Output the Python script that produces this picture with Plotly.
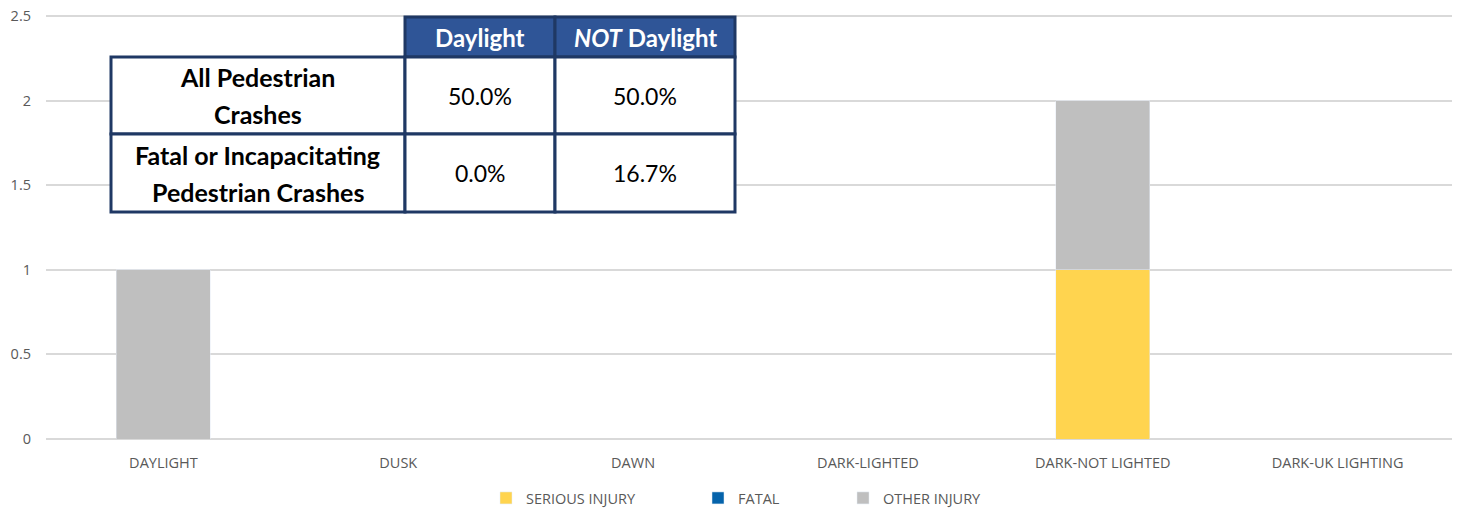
import plotly.graph_objects as go

# Chart data
conditions = ['DAYLIGHT', 'DUSK', 'DAWN', 'DARK-LIGHTED', 'DARK-NOT LIGHTED', 'DARK-UK LIGHTING']
serious_injury = [0, 0, 0, 0, 1, 0]
fatal = [0, 0, 0, 0, 0, 0]
other_injury = [1, 0, 0, 0, 1, 0]
y_ticks = [0, 0.5, 1, 1.5, 2, 2.5]

# Summary table data
table_cols = ['Daylight', '<i>NOT</i> Daylight']
table_rows = [['All Pedestrian', 'Crashes'], ['Fatal or Incapacitating', 'Pedestrian Crashes']]
table_vals = [['50.0%', '50.0%'], ['0.0%', '16.7%']]

# page has an 8px body margin, so the figure is drawn 8px in from the corner
OFF = 8
W, H = 1460 - OFF, 508 - OFF
Y_TOP = 2.53
UNIT = 423 / 2.5  # pixels per y unit
M_L, M_R, M_B = 46 - OFF, 5, 69
M_T = H - M_B - UNIT * Y_TOP


def px(x):
    # page pixel -> paper x
    return (x - OFF - M_L) / (W - M_L - M_R)


def py(y):
    # page pixel -> paper y
    return (H - M_B - (y - OFF)) / (H - M_T - M_B)


fig = go.Figure()
fig.add_trace(go.Bar(x=conditions, y=serious_injury, name='SERIOUS INJURY',
                     marker_color='#FFD44F', legend='legend', showlegend=True))
fig.add_trace(go.Bar(x=conditions, y=fatal, name='FATAL',
                     marker_color='#0563AB', legend='legend2', showlegend=True))
fig.add_trace(go.Bar(x=conditions, y=other_injury, name='OTHER INJURY',
                     marker_color='#BFBFBF', legend='legend3', showlegend=True))

# table geometry (page pixels)
navy = '#1F3864'
col_x = [111, 405, 555, 735]
row_y = [17, 57, 134, 212]

shapes = []
for i in range(2):
    shapes.append(dict(type='rect', xref='paper', yref='paper',
                       x0=px(col_x[i + 1]), x1=px(col_x[i + 2]),
                       y0=py(row_y[1]), y1=py(row_y[0]),
                       fillcolor='#2F5597', line=dict(color=navy, width=3)))
for r in range(2):
    for c in range(3):
        shapes.append(dict(type='rect', xref='paper', yref='paper',
                           x0=px(col_x[c]), x1=px(col_x[c + 1]),
                           y0=py(row_y[r + 2]), y1=py(row_y[r + 1]),
                           fillcolor='white', line=dict(color=navy, width=3)))

annotations = []


def cell_text(x, y, text, size, color='black'):
    annotations.append(dict(xref='paper', yref='paper', showarrow=False,
                            x=px(x), y=py(y), xanchor='center', yanchor='middle',
                            text=text, font=dict(family='Lato', size=size, color=color)))


for i, t in enumerate(table_cols):
    cell_text((col_x[i + 1] + col_x[i + 2]) / 2, (row_y[0] + row_y[1]) / 2,
              '<b>' + t + '</b>', 24, 'white')
for r, lines in enumerate(table_rows):
    ymid = (row_y[r + 1] + row_y[r + 2]) / 2
    xmid = (col_x[0] + col_x[1]) / 2
    cell_text(xmid, ymid - 18.5, '<b>' + lines[0] + '</b>', 25)
    cell_text(xmid, ymid + 18.5, '<b>' + lines[1] + '</b>', 25)
    for c in range(2):
        cell_text((col_x[c + 1] + col_x[c + 2]) / 2, ymid, table_vals[r][c], 23)

legend_base = dict(orientation='h', xref='container', yref='container',
                   y=(H - (498 - OFF)) / H, yanchor='middle', xanchor='left',
                   font=dict(size=14.5, color='#595959'), itemwidth=30,
                   bgcolor='rgba(0,0,0,0)')

fig.update_layout(
    width=W, height=H,
    barmode='stack', bargap=0.6, showlegend=True,
    plot_bgcolor='white', paper_bgcolor='white',
    margin=dict(l=M_L, r=M_R, t=M_T, b=M_B, autoexpand=False),
    font=dict(family='Open Sans', size=14.5, color='#595959'),
    xaxis=dict(showgrid=False, showline=False, ticks='', automargin=False,
               ticklabelstandoff=13, tickfont=dict(size=14.5, color='#595959')),
    yaxis=dict(range=[0, Y_TOP], tickvals=y_ticks,
               ticktext=[f'{v:g}' for v in y_ticks],
               showgrid=True, gridcolor='#D9D9D9', gridwidth=1.5,
               zeroline=True, zerolinecolor='#D9D9D9', zerolinewidth=1.5, automargin=False,
               ticks='', ticklabelstandoff=14, ticklabeloverflow='allow',
               tickfont=dict(size=14.5, color='#595959')),
    legend=dict(legend_base, x=(502 - OFF - 16) / W),
    legend2=dict(legend_base, x=(714 - OFF - 16) / W),
    legend3=dict(legend_base, x=(859 - OFF - 16) / W),
    shapes=shapes,
    annotations=annotations,
)

fig.write_html('out.html')
